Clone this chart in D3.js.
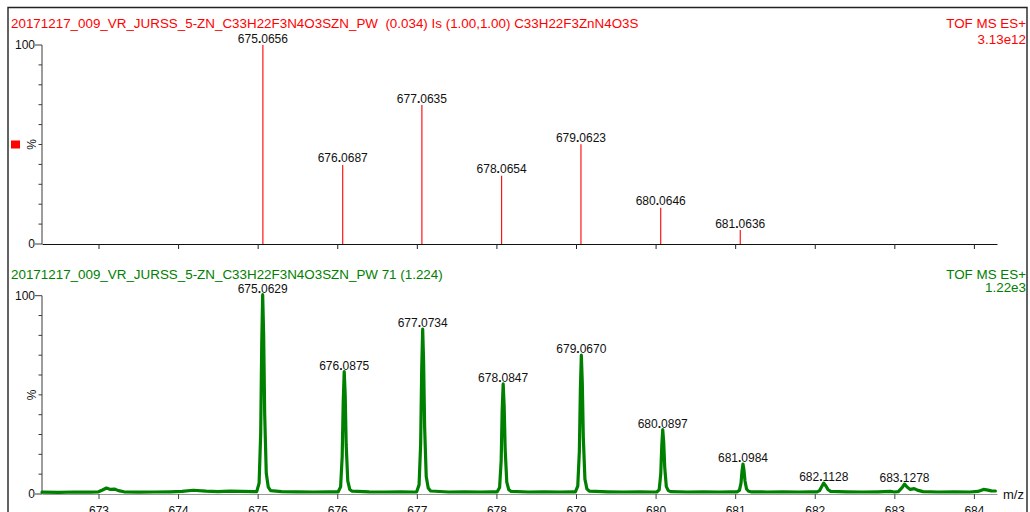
<!DOCTYPE html>
<html>
<head>
<meta charset="utf-8">
<script src="https://cdn.jsdelivr.net/npm/d3@7"></script>
<style>
  html, body { margin: 0; padding: 0; background: #fff; }
  svg { display: block; font-family: "Liberation Sans", Arial, Helvetica, sans-serif; }
</style>
</head>
<body>
<svg id="chart" width="1030" height="512"></svg>
<script>
// ---- data ----
const mzTicks = [673, 674, 675, 676, 677, 678, 679, 680, 681, 682, 683, 684];
const pctTicks = [0, 10, 20, 30, 40, 50, 60, 70, 80, 90, 100];

// Theoretical isotope pattern (stick spectrum)
const theoMz  = [675.0656, 676.0687, 677.0635, 678.0654, 679.0623, 680.0646, 681.0636];
const theoPct = [100, 39.7, 69.8, 34.3, 50.1, 18.2, 7.0];

// Measured peaks (labelled centroids)
const measMz  = [675.0629, 676.0875, 677.0734, 678.0847, 679.0670, 680.0897, 681.0984, 682.1128, 683.1278];
const measPct = [100, 61.2, 82.7, 55.0, 69.5, 32.0, 14.6, 5.0, 4.5];

// Measured continuum profile [m/z, %]
const profile = [
  [672.29,0.4],[672.5,0.3],[672.7,0.5],[672.9,0.4],[673.0,0.6],
  [673.05,1.5],[673.1,2.5],[673.15,1.8],[673.2,2.0],[673.25,1.2],[673.32,0.6],
  [673.5,0.4],[673.7,0.5],[673.9,0.6],[674.05,0.8],[674.19,1.4],[674.35,0.9],[674.5,0.7],[674.65,0.9],[674.8,0.8],[674.95,0.7],
  [674.988,0.7],[675.018,5],[675.038,30],[675.051,75],[675.0629,100],[675.075,80],[675.088,40],[675.108,10],[675.133,3],[675.163,1.2],
  [675.3,0.7],[675.5,0.6],[675.7,0.5],[675.9,0.6],
  [676.012,0.6],[676.042,3.1],[676.062,18.4],[676.075,45.9],[676.0875,61.2],[676.100,49],[676.112,24.5],[676.132,6.1],[676.157,1.8],[676.187,0.9],
  [676.4,0.6],[676.6,0.5],[676.8,0.6],[676.95,0.5],
  [676.998,0.6],[677.028,4.1],[677.048,24.8],[677.061,62],[677.0734,82.7],[677.085,66.2],[677.098,33.1],[677.118,8.3],[677.143,2.5],[677.173,1.0],
  [677.4,0.5],[677.6,0.6],[677.8,0.5],[677.95,0.6],
  [678.010,0.6],[678.040,2.8],[678.060,16.5],[678.072,41.3],[678.0847,55],[678.097,44],[678.110,22],[678.130,5.5],[678.155,1.7],[678.185,0.8],
  [678.4,0.5],[678.6,0.6],[678.8,0.5],[678.95,0.6],
  [678.992,0.6],[679.022,3.5],[679.042,20.9],[679.055,52.1],[679.0670,69.5],[679.079,55.6],[679.092,27.8],[679.112,7.0],[679.137,2.1],[679.167,0.9],
  [679.4,0.6],[679.6,0.5],[679.8,0.6],[679.95,0.5],
  [680.015,0.5],[680.045,1.6],[680.065,9.6],[680.078,24],[680.0897,32],[680.102,25.6],[680.115,12.8],[680.135,3.2],[680.160,1.2],[680.190,0.7],
  [680.4,0.5],[680.6,0.6],[680.8,0.5],[680.95,0.6],
  [681.023,0.6],[681.053,1.3],[681.073,4.8],[681.086,11],[681.0984,14.6],[681.110,11.7],[681.123,6.2],[681.143,2],[681.168,0.9],[681.198,0.6],
  [681.4,0.5],[681.6,0.6],[681.8,0.5],[681.95,0.6],
  [682.03,0.6],[682.06,1.2],[682.085,3],[682.1128,5],[682.14,3.5],[682.165,1.8],[682.2,0.8],
  [682.4,0.6],[682.6,0.5],[682.8,0.6],[682.95,0.8],[683.0,0.5],
  [683.05,0.7],[683.1,2.8],[683.1278,4.5],[683.16,3],[683.2,1.8],[683.25,2.2],[683.3,1.3],[683.36,0.7],
  [683.55,0.5],[683.75,0.6],[683.95,0.5],[684.05,0.8],[684.12,1.8],[684.16,1.6],[684.22,1.1],[684.27,1.0]
];

const topTitle = "20171217_009_VR_JURSS_5-ZN_C33H22F3N4O3SZN_PW  (0.034) Is (1.00,1.00) C33H22F3ZnN4O3S";
const botTitle = "20171217_009_VR_JURSS_5-ZN_C33H22F3N4O3SZN_PW 71 (1.224)";
const topRight = ["TOF MS ES+", "3.13e12"];
const botRight = ["TOF MS ES+", "1.22e3"];

// ---- layout ----
const RED = "#ff0000", GREEN = "#008000", AXIS = "#3a3a3a";
const TITLE_SIZE = 13.4;
const svg = d3.select("#chart");

const x = d3.scaleLinear().domain([672.29, 684.29]).range([42, 997]);
const yTop = d3.scaleLinear().domain([0, 100]).range([244, 45]);
const yBot = d3.scaleLinear().domain([0, 100]).range([494, 295.7]);

// outer frame
svg.append("path")
  .attr("d", "M8,520 V7.5 H1027 V520")
  .attr("fill", "none").attr("stroke", "#222").attr("stroke-width", 1.4);

function mzLabel(g, text, px, py) {
  const parts = text.split(".");
  const t = g.append("text").attr("x", px).attr("y", py)
    .attr("text-anchor", "middle").attr("font-size", 12).attr("fill", "#111");
  t.append("tspan").text(parts[0]);
  t.append("tspan").attr("font-weight", "bold").text(".");
  t.append("tspan").text(parts[1]);
}

function yAxis(g, y, pctY) {
  const ax = g.append("g").attr("transform", "translate(42,0)");
  ax.append("line").attr("x1", 0).attr("x2", 0).attr("y1", y(0)).attr("y2", y(100))
    .attr("stroke", AXIS).attr("stroke-width", 1);
  ax.selectAll("line.tk").data(pctTicks).join("line").attr("class", "tk")
    .attr("x1", d => (d === 0 || d === 100) ? -7 : -3.5).attr("x2", 0)
    .attr("y1", d => y(d)).attr("y2", d => y(d))
    .attr("stroke", AXIS).attr("stroke-width", 1);
  ax.selectAll("text.tl").data([0, 100]).join("text").attr("class", "tl")
    .attr("x", -7).attr("y", d => y(d) + 4.3)
    .attr("text-anchor", "end").attr("font-size", 12).attr("fill", "#111")
    .text(d => d);
  g.append("text")
    .attr("transform", `translate(36,${pctY}) rotate(-90)`)
    .attr("text-anchor", "middle").attr("font-size", 12).attr("fill", "#111")
    .text("%");
}

// ---- top panel: theoretical pattern ----
const gTop = svg.append("g");
gTop.append("text").attr("x", 11).attr("y", 28).attr("font-size", TITLE_SIZE).attr("fill", RED)
  .attr("xml:space", "preserve").style("white-space", "pre").text(topTitle);
gTop.selectAll("text.rt").data(topRight).join("text").attr("class", "rt")
  .attr("x", 1026).attr("y", (d, i) => 27.5 + i * 16)
  .attr("text-anchor", "end").attr("font-size", TITLE_SIZE).attr("fill", RED).text(d => d);

yAxis(gTop, yTop, 144.5);
gTop.append("rect").attr("x", 11).attr("y", 140.5).attr("width", 9).attr("height", 8).attr("fill", RED);

const xAxTop = d3.axisBottom(x).tickValues(mzTicks).tickSize(5).tickFormat("").tickSizeOuter(0);
const gxt = gTop.append("g").attr("transform", `translate(0,${yTop(0)})`).call(xAxTop);
gxt.select(".domain").attr("stroke", "#111");
gxt.selectAll(".tick line").attr("stroke", "#222");

const sticks = theoMz.map((m, i) => ({ mz: m, pct: theoPct[i] }));
gTop.selectAll("line.stick").data(sticks).join("line").attr("class", "stick")
  .attr("x1", d => x(d.mz)).attr("x2", d => x(d.mz))
  .attr("y1", yTop(0)).attr("y2", d => yTop(d.pct))
  .attr("stroke", RED).attr("stroke-width", 1.1);
sticks.forEach(d => mzLabel(gTop, d.mz.toFixed(4), x(d.mz), yTop(d.pct) - 2.5));

// ---- bottom panel: measured spectrum ----
const gBot = svg.append("g");
gBot.append("text").attr("x", 11).attr("y", 279).attr("font-size", TITLE_SIZE).attr("fill", GREEN).text(botTitle);
gBot.selectAll("text.rt").data(botRight).join("text").attr("class", "rt")
  .attr("x", 1026).attr("y", (d, i) => 278.5 + i * 13.5)
  .attr("text-anchor", "end").attr("font-size", TITLE_SIZE).attr("fill", GREEN).text(d => d);

yAxis(gBot, yBot, 395);

const xAxBot = d3.axisBottom(x).tickValues(mzTicks).tickSize(5).tickPadding(4).tickSizeOuter(0);
const gxb = gBot.append("g").attr("transform", `translate(0,${yBot(0)})`).call(xAxBot);
gxb.select(".domain").attr("stroke", "#9a9a9a").attr("stroke-width", 1.2);
gxb.selectAll(".tick line").attr("stroke", "#444");
gxb.selectAll(".tick text").attr("font-size", 12).attr("fill", "#111")
  .attr("font-family", "'Liberation Sans', Arial, sans-serif").attr("y", 12).attr("dy", "0.71em");

gBot.append("text").attr("x", 1003).attr("y", 498.5).attr("font-size", 13).attr("fill", "#111").text("m/z");

const line = d3.line().x(d => x(d[0])).y(d => yBot(d[1]) - 1);
gBot.append("path").datum(profile).attr("d", line)
  .attr("fill", "none").attr("stroke", GREEN).attr("stroke-width", 3.2)
  .attr("stroke-linejoin", "round").attr("stroke-linecap", "round");

measMz.forEach((m, i) => mzLabel(gBot, m.toFixed(4), x(m), yBot(measPct[i]) - 3));
</script>
</body>
</html>
